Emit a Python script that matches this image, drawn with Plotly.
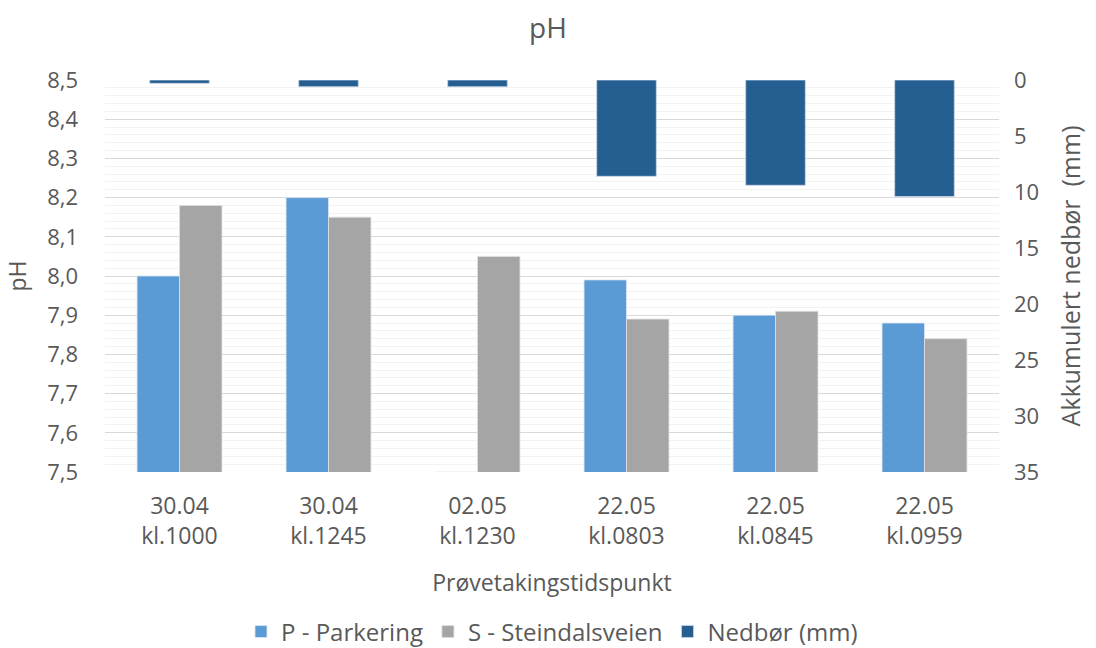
import plotly.graph_objects as go

# Sampling times (category labels)
categories = ["30.04<br>kl.1000", "30.04<br>kl.1245", "02.05<br>kl.1230",
              "22.05<br>kl.0803", "22.05<br>kl.0845", "22.05<br>kl.0959"]

# pH measurements per sampling site
ph_parkering = [8.00, 8.20, 7.50, 7.99, 7.90, 7.88]
ph_steindalsveien = [8.18, 8.15, 8.05, 7.89, 7.91, 7.84]

# Accumulated precipitation (mm), plotted on reversed secondary axis
nedbor_mm = [0.3, 0.6, 0.6, 8.6, 9.4, 10.4]

ph_ticks = [7.5, 7.6, 7.7, 7.8, 7.9, 8.0, 8.1, 8.2, 8.3, 8.4, 8.5]
mm_ticks = [0, 5, 10, 15, 20, 25, 30, 35]

FONT = "'Open Sans', Lato, sans-serif"
TXT = "#595959"
BAR_W = 0.285
TICK_SIZE = 22

fig = go.Figure()

fig.add_trace(go.Bar(
    x=categories, y=ph_parkering, name="P - Parkering",
    width=BAR_W, offset=-BAR_W,
    marker=dict(color="#5B9BD5", line=dict(color="#DCE6F2", width=0.8)),
    yaxis="y",
))
fig.add_trace(go.Bar(
    x=categories, y=ph_steindalsveien, name="S - Steindalsveien",
    width=BAR_W, offset=0,
    marker=dict(color="#A5A5A5", line=dict(color="#E0E0E0", width=0.8)),
    yaxis="y",
))
fig.add_trace(go.Bar(
    x=categories, y=nedbor_mm, name="Nedbør (mm)",
    width=0.40, offset=-0.20,
    marker=dict(color="#255E91", line=dict(color="#C9D6E6", width=0.8)),
    yaxis="y2",
))

fig.update_layout(
    width=1096, height=648,
    paper_bgcolor="white", plot_bgcolor="white",
    separators=", ",
    font=dict(family=FONT, color=TXT, size=TICK_SIZE),
    title=dict(text="pH", x=0.5, xanchor="center", y=0.957, yanchor="middle",
               font=dict(size=28, color=TXT, family=FONT)),
    margin=dict(l=105, r=97, t=80, b=176, autoexpand=False),
    barmode="overlay",
    xaxis=dict(
        type="category",
        title=dict(text="Prøvetakingstidspunkt", font=dict(size=23, color=TXT), standoff=24),
        tickfont=dict(size=23, color=TXT),
        ticklabelstandoff=18,
        showgrid=False, showline=False, ticks="",
    ),
    yaxis=dict(
        title=dict(text="pH", font=dict(size=23, color=TXT), standoff=14),
        range=[7.5, 8.5], tickvals=ph_ticks, tickformat=".1f",
        tickfont=dict(size=TICK_SIZE, color=TXT),
        ticklabelstandoff=26,
        showgrid=True, gridcolor="#D9D9D9", gridwidth=1.3,
        minor=dict(dtick=0.02, tick0=7.5, showgrid=True, gridcolor="#F2F2F2", gridwidth=1.3),
        zeroline=False, showline=False, ticks="",
    ),
    yaxis2=dict(
        title=dict(text="Akkumulert nedbør\u00a0 (mm)", font=dict(size=25, color=TXT), standoff=24),
        overlaying="y", side="right",
        range=[35, 0], tickvals=mm_ticks,
        tickfont=dict(size=TICK_SIZE, color=TXT),
        ticklabelstandoff=14,
        showgrid=False, zeroline=False, showline=False, ticks="",
    ),
    legend=dict(
        orientation="h", x=0.5, xanchor="center", y=-0.408, yanchor="middle",
        font=dict(size=24, color=TXT), itemwidth=30,
        traceorder="normal",
    ),
)

fig.write_html("out.html")
